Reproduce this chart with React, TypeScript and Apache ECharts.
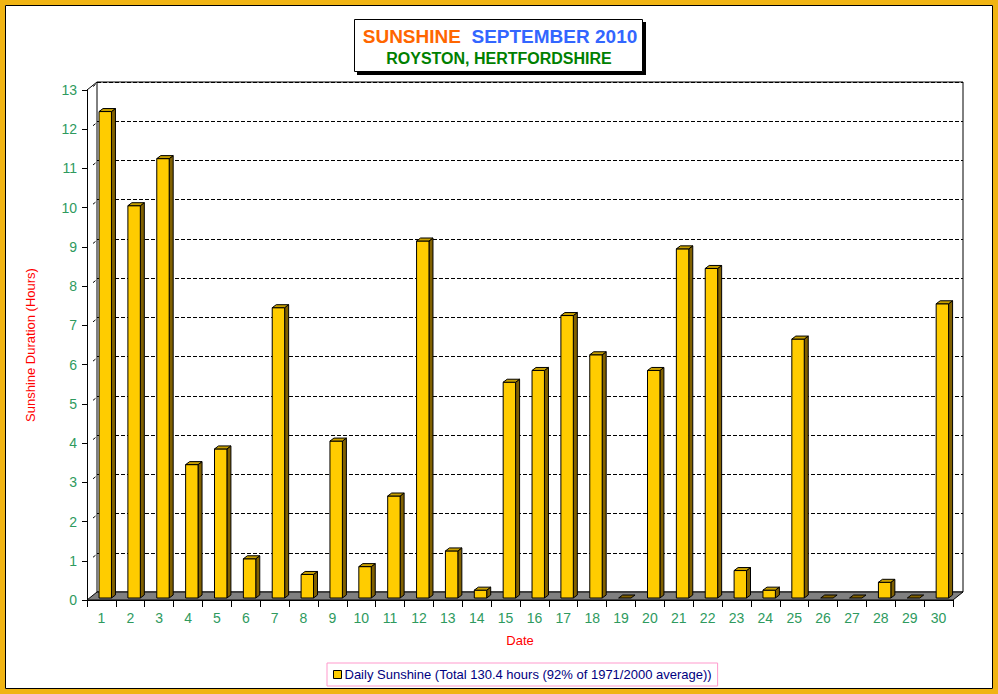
import React, { useEffect, useRef } from "react";
import * as echarts from "echarts";

const days = Array.from({ length: 30 }, (_, i) => String(i + 1));
const sunshine = [12.4, 10.0, 11.2, 3.4, 3.8, 1.0, 7.4, 0.6, 4.0, 0.8, 2.6, 9.1, 1.2, 0.2, 5.5, 5.8, 7.2, 6.2, 0, 5.8, 8.9, 8.4, 0.7, 0.2, 6.6, 0, 0, 0.4, 0, 7.5];
const yTicks = [0, 13, 1]; // min, max, interval
const seriesName = "Daily Sunshine (Total 130.4 hours (92% of 1971/2000 average))";
const titleLine1a = "SUNSHINE";
const titleLine1b = "SEPTEMBER 2010";
const titleLine2 = "ROYSTON, HERTFORDSHIRE";

const FONT = "'Liberation Sans', Arial, sans-serif";
const GREEN = "#2E9A5E";

export default function App() {
  const ref = useRef<HTMLDivElement>(null);
  useEffect(() => {
    const chart = echarts.init(ref.current!, null, { renderer: "svg" });
    // front plane geometry
    const L = 87, R = 953, T = 90, B = 600;
    const DX = 10, DY = 8;
    const unit = (B - T) / (yTicks[1] - yTicks[0]);
    const wallMarks: any[] = [];
    for (let v = yTicks[0] + 1; v <= yTicks[1]; v += yTicks[2]) {
      const yf = B - v * unit;
      wallMarks.push({
        type: "line",
        z: 5,
        shape: { x1: 93, y1: yf - 3.5, x2: 95.5, y2: yf - 5.5 },
        style: { stroke: "#000", lineWidth: 1 },
      });
    }
    chart.setOption({
      animation: false,
      backgroundColor: "#fff",
      textStyle: { fontFamily: FONT },
      grid: [
        { left: L, right: 998 - R, top: T, bottom: 694 - B, show: false },
        {
          left: L + DX, right: 998 - R - DX, top: T - DY, bottom: 694 - B + DY,
          show: true, backgroundColor: "#fff", borderColor: "#000", borderWidth: 1, z: 0,
        },
      ],
      xAxis: [
        {
          type: "category", gridIndex: 0, data: days, boundaryGap: true,
          name: "Date", nameLocation: "middle", nameGap: 34,
          nameTextStyle: { color: "#FF0000", fontSize: 13, fontFamily: FONT },
          axisLine: { show: true, lineStyle: { color: "#000", width: 1 } },
          axisTick: { show: true, length: 7, lineStyle: { color: "#000" } },
          axisLabel: { color: GREEN, fontSize: 14, margin: 11, fontFamily: FONT },
          splitLine: { show: false }, z: 6,
        },
        {
          type: "category", gridIndex: 1, data: days, show: false,
        },
      ],
      yAxis: [
        {
          type: "value", gridIndex: 0, min: yTicks[0], max: yTicks[1], interval: yTicks[2],
          name: "Sunshine Duration (Hours)", nameLocation: "middle", nameGap: 50,
          nameTextStyle: { color: "#FF0000", fontSize: 13, fontFamily: FONT },
          axisLine: { show: true, lineStyle: { color: "#000", width: 1 } },
          axisTick: { show: true, length: 5, lineStyle: { color: "#000" } },
          axisLabel: { color: GREEN, fontSize: 14, margin: 10, fontFamily: FONT },
          splitLine: { show: false }, z: 6,
        },
        {
          type: "value", gridIndex: 1, min: yTicks[0], max: yTicks[1], interval: yTicks[2],
          axisLine: { show: false }, axisTick: { show: false }, axisLabel: { show: false },
          splitLine: { show: true, lineStyle: { color: "#000", type: [4, 2], width: 1 } },
          z: 1,
        },
      ],
      legend: {
        data: [{ name: seriesName, icon: "rect", itemStyle: { color: "#FFCC00", borderColor: "#000", borderWidth: 1 } }],
        left: 327, top: 663,
        padding: [5, 6, 5, 6],
        itemWidth: 8, itemHeight: 8, itemGap: 5,
        borderColor: "#FF99CC", borderWidth: 1, backgroundColor: "#fff",
        textStyle: { color: "#000080", fontSize: 13, fontFamily: FONT, padding: [0, 0, 0, -2] },
        selectedMode: false,
      },
      series: [
        {
          name: seriesName,
          type: "custom",
          xAxisIndex: 0, yAxisIndex: 0,
          z: 4,
          clip: false,
          itemStyle: { color: "#FFCC00" },
          encode: { x: 0, y: 1 },
          data: sunshine.map((v, i) => [i, v]),
          renderItem: (params: any, api: any) => {
            const i = api.value(0);
            const v = api.value(1);
            const base = api.coord([i, 0]);
            const tp = api.coord([i, v]);
            const cw = api.size([1, 0])[0];
            const w = cw * 0.43;
            const fl = base[0] - 2.4;
            const fr = fl + w;
            const bottom = base[1] - 2;
            const top = tp[1] - 2;
            const dx = 4, dy = 3;
            const children: any[] = [];
            if (bottom - top > 0.5) {
              children.push({
                type: "polygon",
                shape: { points: [[fr, top], [fr + dx, top - dy], [fr + dx, bottom - dy], [fr, bottom]] },
                style: { fill: "#806000", stroke: "#000", lineWidth: 1 },
              });
              children.push({
                type: "rect",
                shape: { x: fl, y: top, width: w, height: bottom - top },
                style: { fill: "#FFCC00", stroke: "#000", lineWidth: 1 },
              });
            }
            children.push({
              type: "polygon",
              shape: { points: [[fl, top], [fl + dx, top - dy], [fr + dx, top - dy], [fr, top]] },
              style: { fill: bottom - top > 0.5 ? "#C8A000" : "#806000", stroke: "#000", lineWidth: 1 },
            });
            return { type: "group", children };
          },
        },
      ],
      graphic: [
        // floor
        {
          type: "polygon", z: 2,
          shape: { points: [[L, B], [R, B], [R + DX, B - DY], [L + DX, B - DY]] },
          style: { fill: "#808080", stroke: "#000", lineWidth: 1 },
        },
        // left wall top diagonal
        {
          type: "line", z: 5,
          shape: { x1: L, y1: T, x2: L + DX, y2: T - DY },
          style: { stroke: "#000", lineWidth: 1 },
        },
        ...wallMarks,
        // title box
        { type: "rect", z: 10, shape: { x: 357, y: 22, width: 289, height: 53 }, style: { fill: "#000" } },
        { type: "rect", z: 11, shape: { x: 354.5, y: 19.5, width: 288, height: 52 }, style: { fill: "#fff", stroke: "#000", lineWidth: 1 } },
        {
          type: "text", z: 12, x: 500, y: 36,
          style: {
            text: `{a|${titleLine1a}}  {b|${titleLine1b}}`,
            align: "center", verticalAlign: "middle",
            font: `bold 19px ${FONT}`,
            rich: {
              a: { fill: "#FF6600", font: `bold 19px ${FONT}` },
              b: { fill: "#3366FF", font: `bold 19px ${FONT}` },
            },
          },
        },
        {
          type: "text", z: 12, x: 499, y: 58,
          style: { text: titleLine2, align: "center", verticalAlign: "middle", fill: "#008000", font: `bold 16px ${FONT}` },
        },
        // outer frame
        { type: "rect", z: 20, shape: { x: 2.5, y: 2.5, width: 993, height: 689 }, style: { fill: "none", stroke: "#F0B414", lineWidth: 5 } },
        { type: "rect", z: 20, shape: { x: 5.5, y: 5.5, width: 987, height: 683 }, style: { fill: "none", stroke: "#000", lineWidth: 1 } },
      ],
    });
    return () => chart.dispose();
  }, []);
  return (
    <div
      ref={ref}
      style={{ position: "fixed", left: 0, top: 0, width: 998, height: 694, background: "#fff" }}
    />
  );
}
